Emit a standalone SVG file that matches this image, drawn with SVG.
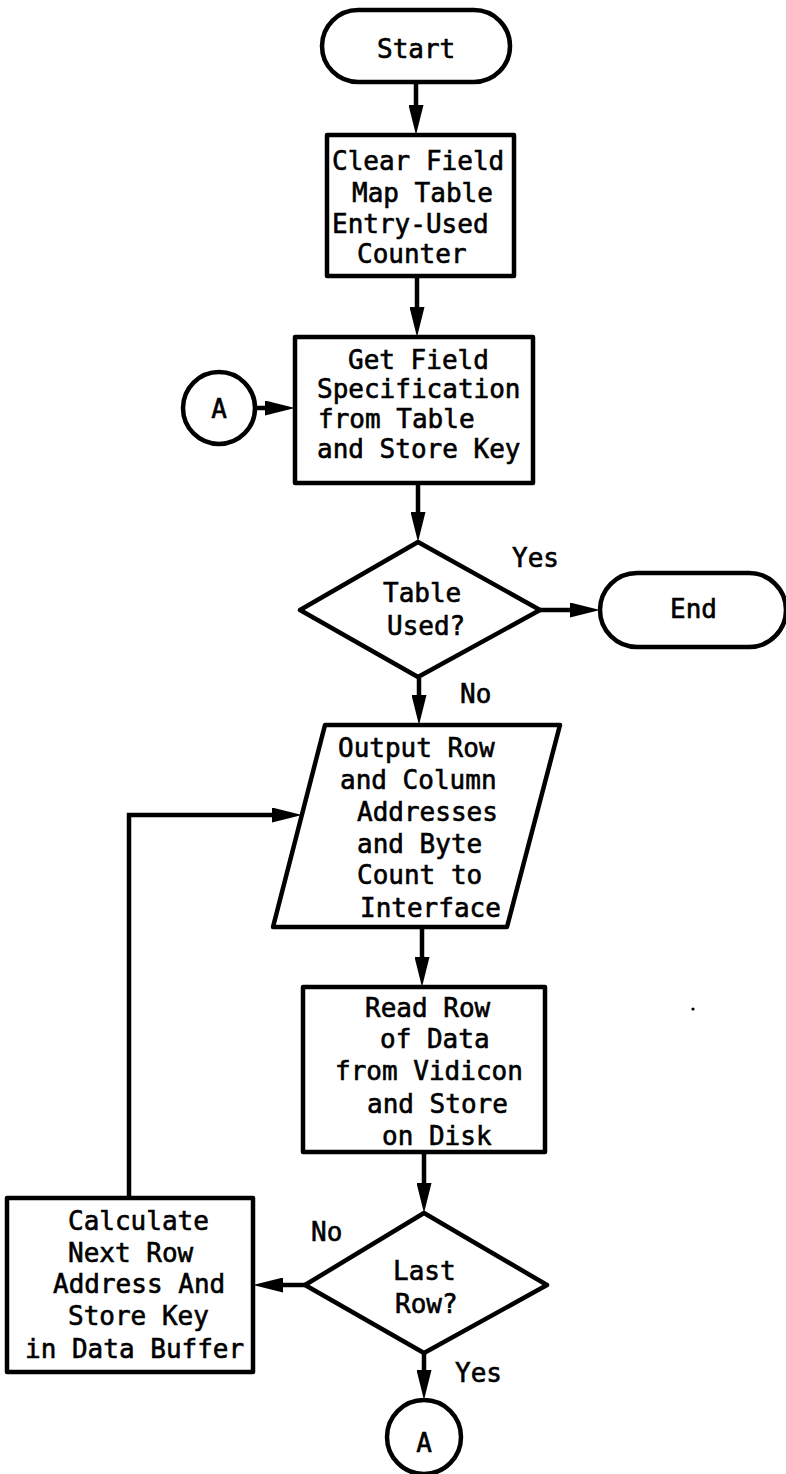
<svg xmlns="http://www.w3.org/2000/svg" width="786" height="1474" viewBox="0 0 786 1474">
  <style>
    .shape { fill: #fff; stroke: #000; stroke-width: 4.5; stroke-linejoin: round; }
    .wire { fill: none; stroke: #000; stroke-width: 4.5; marker-end: url(#head); }
    text { font-family: "DejaVu Sans Mono", "Liberation Mono", monospace; font-size: 26px; fill: #000; stroke: #000; stroke-width: 0.6; }
    .mid { text-anchor: middle; }
  </style>
  <defs>
    <marker id="head" viewBox="0 0 30 15" refX="10" refY="7.5" markerWidth="30" markerHeight="15" markerUnits="userSpaceOnUse" orient="auto">
      <path d="M0,0 L30,7.5 L0,15 Z" fill="#000"/>
    </marker>
  </defs>
  <rect width="786" height="1474" fill="#fff"/>

  <!-- flow lines -->
  <g id="connectors">
    <path class="wire" d="M416,82 V115"/>
    <path class="wire" d="M417,276 V317"/>
    <path class="wire" d="M255,408 H275"/>
    <path class="wire" d="M418,483 V522"/>
    <path class="wire" d="M540,610 H580"/>
    <path class="wire" d="M419,677 V705"/>
    <path class="wire" d="M422,927 V967"/>
    <path class="wire" d="M424,1152 V1193"/>
    <path class="wire" d="M305,1285 H273"/>
    <path class="wire" d="M424,1353 V1380"/>
    <path class="wire" d="M129,1198 V815 H282"/>
  </g>

  <g id="start">
    <rect class="shape" x="322" y="10" width="188" height="72" rx="36"/>
    <text x="377" y="58">Start</text>
  </g>

  <g id="clear-counter">
    <rect class="shape" x="327" y="135" width="187" height="141"/>
    <text x="332" y="170">Clear Field</text>
    <text x="352" y="202">Map Table</text>
    <text x="332" y="233">Entry-Used</text>
    <text x="357" y="263">Counter</text>
  </g>

  <g id="connector-a-in">
    <circle class="shape" cx="219" cy="408" r="36"/>
    <text class="mid" x="219" y="418">A</text>
  </g>

  <g id="get-field">
    <rect class="shape" x="295" y="337" width="238" height="146"/>
    <text x="348" y="369">Get Field</text>
    <text x="317" y="398">Specification</text>
    <text x="318" y="428">from Table</text>
    <text x="317" y="458">and Store Key</text>
  </g>

  <g id="table-used">
    <polygon class="shape" points="418,542 540,610 418,677 300,610"/>
    <text x="383" y="602">Table</text>
    <text x="387" y="635">Used?</text>
  </g>

  <g id="end">
    <rect class="shape" x="600" y="573" width="186" height="74" rx="37"/>
    <text x="670" y="618">End</text>
  </g>

  <g id="output-addresses">
    <polygon class="shape" points="325,725 560,725 507,927 273,927"/>
    <text x="338" y="757">Output Row</text>
    <text x="340" y="789">and Column</text>
    <text x="357" y="821">Addresses</text>
    <text x="357" y="853">and Byte</text>
    <text x="357" y="884">Count to</text>
    <text x="360" y="917">Interface</text>
  </g>

  <g id="read-row">
    <rect class="shape" x="303" y="987" width="242" height="165"/>
    <text x="365" y="1017">Read Row</text>
    <text x="380" y="1048">of Data</text>
    <text x="335" y="1080">from Vidicon</text>
    <text x="367" y="1113">and Store</text>
    <text x="382" y="1145">on Disk</text>
  </g>

  <g id="last-row">
    <polygon class="shape" points="424,1213 547,1285 424,1353 305,1285"/>
    <text x="393" y="1280">Last</text>
    <text x="395" y="1313">Row?</text>
  </g>

  <g id="next-row">
    <rect class="shape" x="7" y="1198" width="246" height="174"/>
    <text x="68" y="1230">Calculate</text>
    <text x="68" y="1262">Next Row</text>
    <text x="53" y="1293">Address And</text>
    <text x="68" y="1325">Store Key</text>
    <text x="25" y="1358">in Data Buffer</text>
  </g>

  <g id="connector-a-out">
    <circle class="shape" cx="424" cy="1437" r="37"/>
    <text class="mid" x="424" y="1452">A</text>
  </g>

  <g id="branch-labels">
    <text x="512" y="567">Yes</text>
    <text x="460" y="703">No</text>
    <text x="311" y="1241">No</text>
    <text x="455" y="1382">Yes</text>
  </g>

  <circle cx="693" cy="1009" r="1.6" fill="#000"/>
</svg>
